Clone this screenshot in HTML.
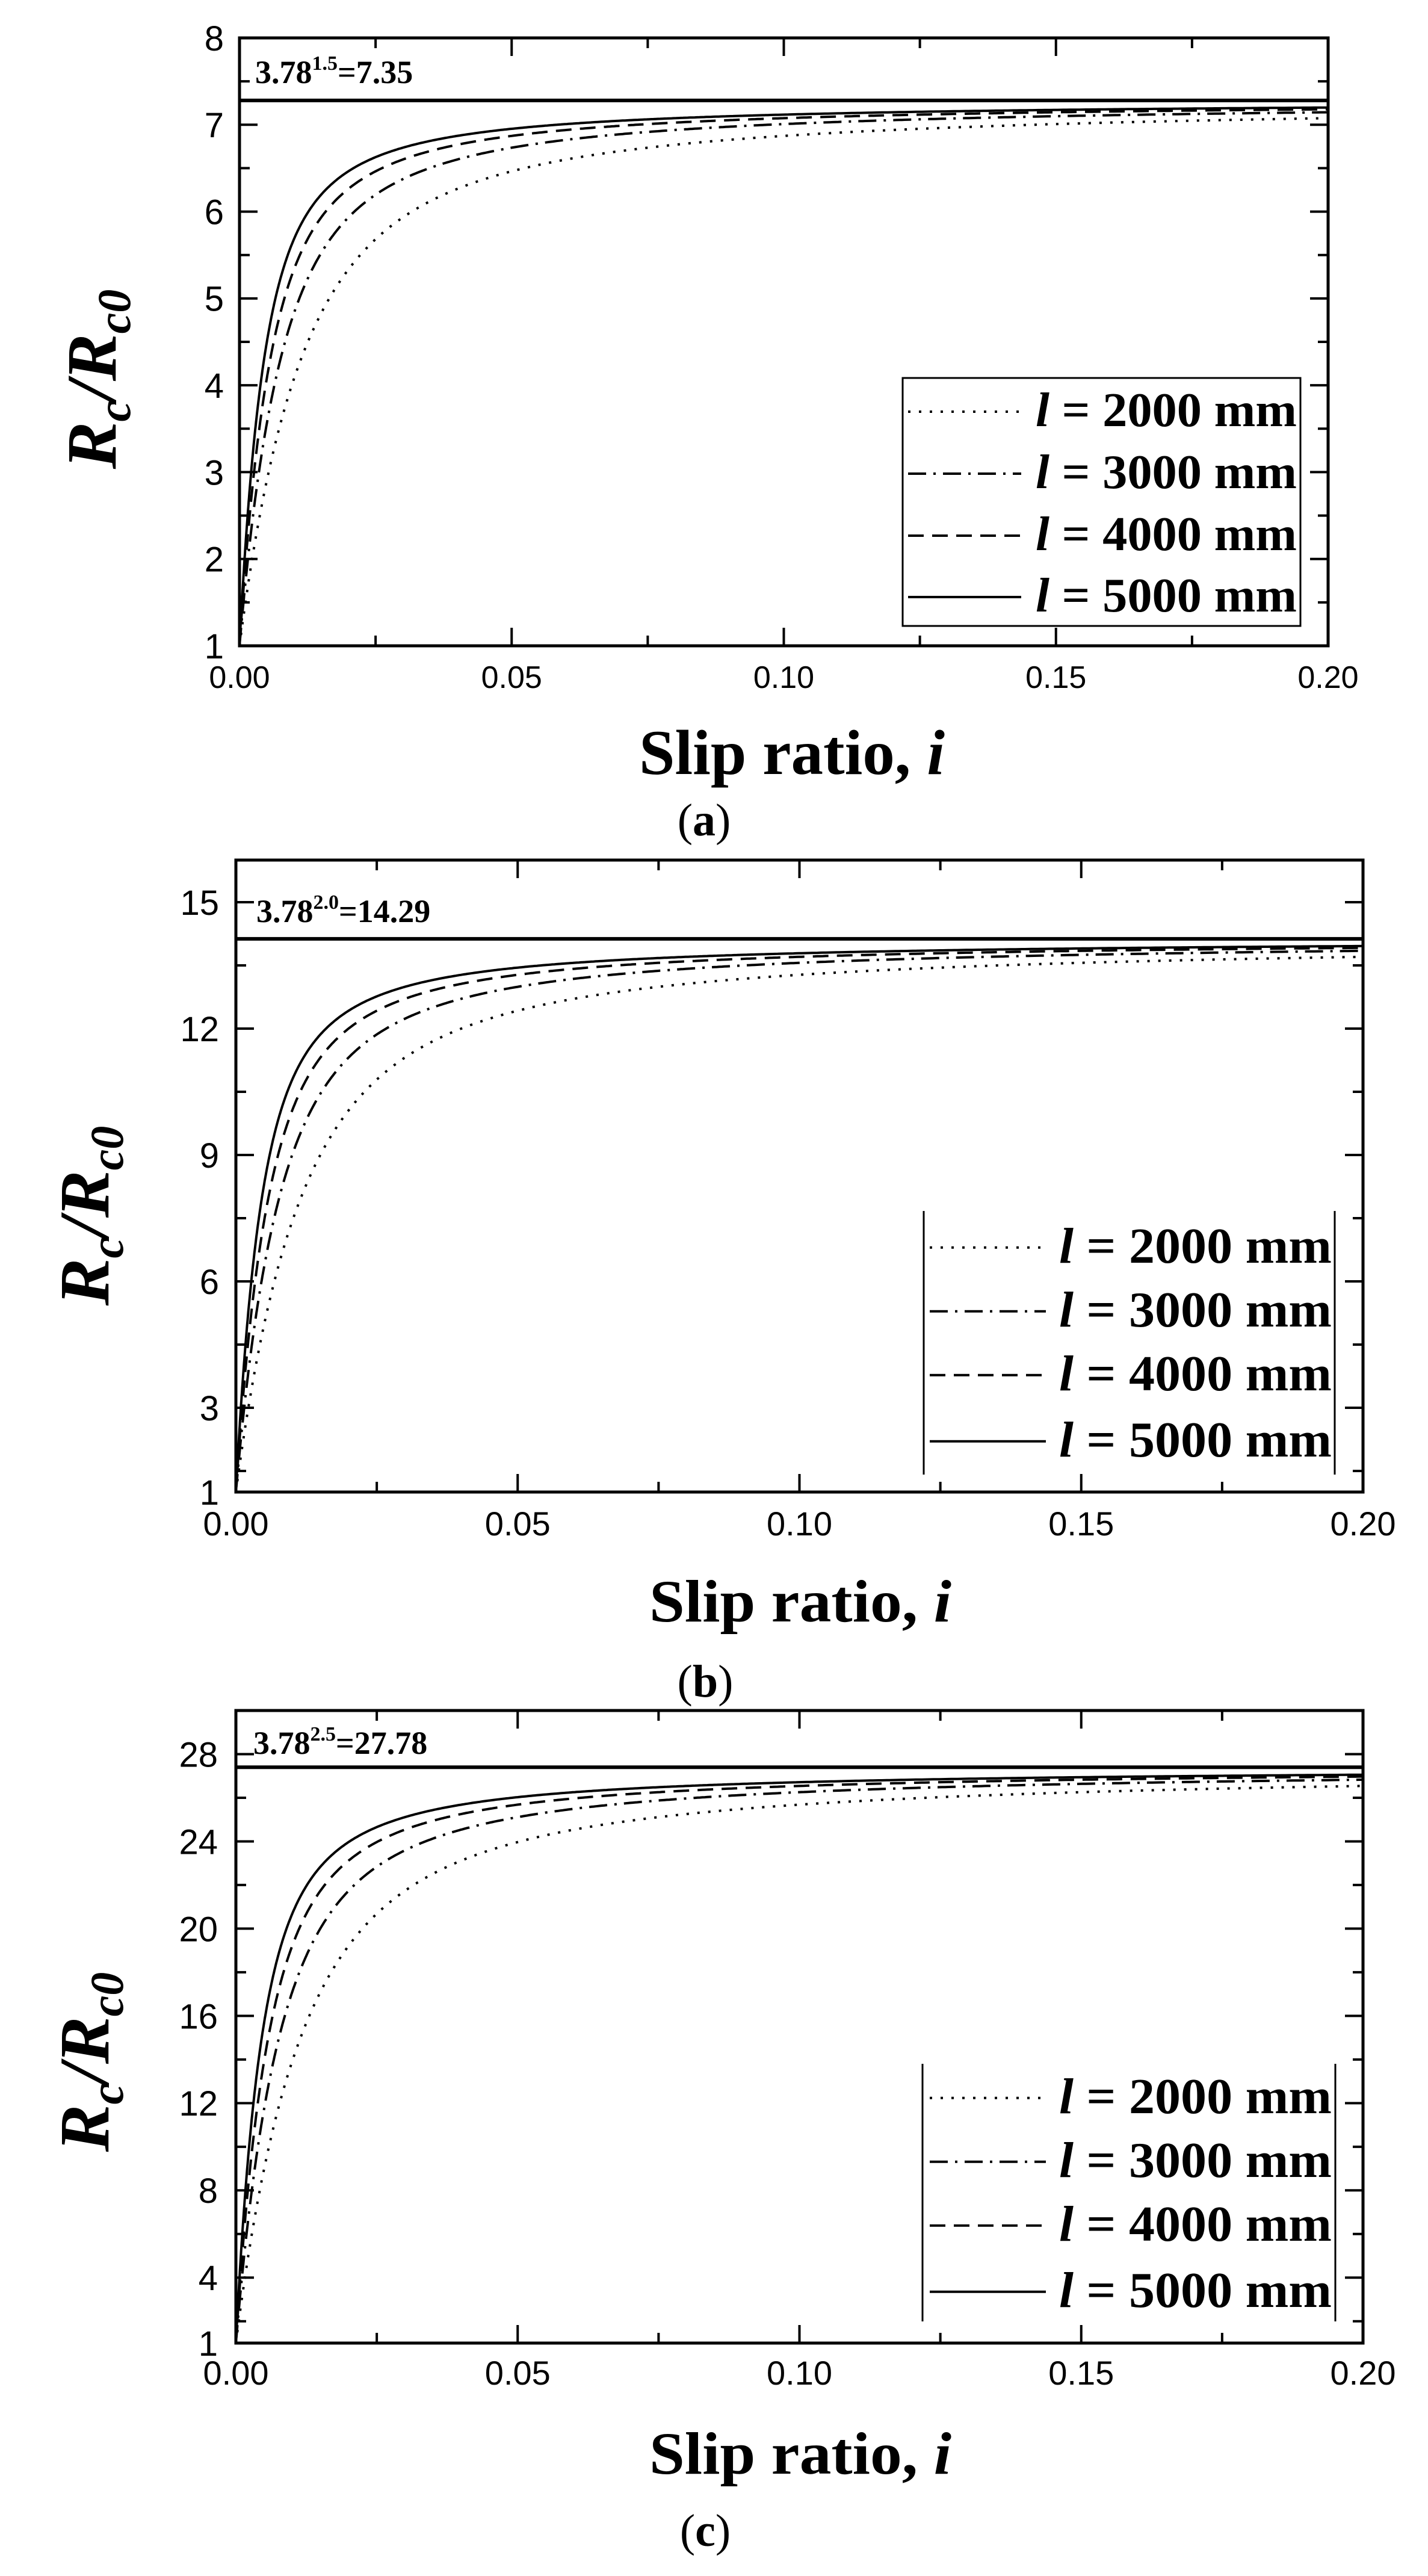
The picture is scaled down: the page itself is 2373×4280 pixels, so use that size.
<!DOCTYPE html>
<html><head><meta charset="utf-8"><style>
html,body{margin:0;padding:0;background:#fff;}
svg{display:block;}
</style></head><body>
<svg id="s" xmlns="http://www.w3.org/2000/svg" width="2373" height="4280" viewBox="0 0 2373 4280"></svg>
<script>
var s=document.getElementById('s');var out='';
function yl(c,v){return c.yb-(v-1)*(c.yb-c.yt)/(c.vmax-1);}
function xl(c,v){return c.xl+v/0.2*(c.xr-c.xl);}
function plot(c){
 var o='';
 var ls=[2000,3000,4000,5000];
 var dashes=['4 14','30 12 4 12','26 14',''];
 for(var k=0;k<4;k++){
  var d='';
  for(var n=0;n<=600;n++){
   var i=0.2*Math.pow(n/600,2);
   var x=i*ls[k]/13;
   var f=x<1e-6?0:1-(1-Math.exp(-x))/x;
   var v=1+(c.K-1)*f;
   d+=(n?'L':'M')+xl(c,i).toFixed(1)+' '+yl(c,v).toFixed(1);
  }
  o+='<path d="'+d+'" fill="none" stroke="#000" stroke-width="4"'+(dashes[k]?' stroke-dasharray="'+dashes[k]+'"':'')+'/>';
 }
 o+='<line x1="'+c.xl+'" x2="'+c.xr+'" y1="'+yl(c,c.K)+'" y2="'+yl(c,c.K)+'" stroke="#000" stroke-width="6"/>';
 o+='<rect x="'+c.xl+'" y="'+c.yt+'" width="'+(c.xr-c.xl)+'" height="'+(c.yb-c.yt)+'" fill="none" stroke="#000" stroke-width="5"/>';
 for(var t=0;t<=8;t++){
  var X=xl(c,t*0.025),L=t%2?17:30;
  o+='<line x1="'+X+'" x2="'+X+'" y1="'+c.yb+'" y2="'+(c.yb-L)+'" stroke="#000" stroke-width="4"/>';
  o+='<line x1="'+X+'" x2="'+X+'" y1="'+c.yt+'" y2="'+(c.yt+L)+'" stroke="#000" stroke-width="4"/>';
  if(t%2==0) o+='<text x="'+X+'" y="'+c.xlab+'" font-family="Liberation Sans,sans-serif" font-size="'+c.fs+'" text-anchor="middle">'+(t*0.025).toFixed(2)+'</text>';
 }
 c.major.forEach(function(v){var Y=yl(c,v);
  o+='<line x1="'+c.xl+'" x2="'+(c.xl+30)+'" y1="'+Y+'" y2="'+Y+'" stroke="#000" stroke-width="4"/>';
  o+='<line x1="'+c.xr+'" x2="'+(c.xr-30)+'" y1="'+Y+'" y2="'+Y+'" stroke="#000" stroke-width="4"/>';});
 c.minor.forEach(function(v){var Y=yl(c,v);
  o+='<line x1="'+c.xl+'" x2="'+(c.xl+17)+'" y1="'+Y+'" y2="'+Y+'" stroke="#000" stroke-width="4"/>';
  o+='<line x1="'+c.xr+'" x2="'+(c.xr-17)+'" y1="'+Y+'" y2="'+Y+'" stroke="#000" stroke-width="4"/>';});
 c.labels.forEach(function(v){var Y=yl(c,v);
  o+='<text x="'+c.ylx+'" y="'+(Y+c.yfs*0.36)+'" font-family="Liberation Sans,sans-serif" font-size="'+c.yfs+'" text-anchor="end">'+v+'</text>';});
 o+='<text x="'+c.ax+'" y="'+c.ay+'" font-family="Liberation Serif,serif" font-weight="bold" font-size="54">3.78<tspan font-size="34" dy="-22">'+c.exp+'</tspan><tspan dy="22">='+c.val+'</tspan></text>';
 var names=['2000','3000','4000','5000'];
 if(c.box) o+='<rect x="'+c.lg.l+'" y="'+c.lg.t+'" width="'+(c.lg.r-c.lg.l)+'" height="'+(c.lg.b-c.lg.t)+'" fill="#fff" stroke="#000" stroke-width="3"/>';
 else {o+='<line x1="'+c.lg.l+'" x2="'+c.lg.l+'" y1="'+c.lg.t+'" y2="'+c.lg.b+'" stroke="#000" stroke-width="3"/>';
  o+='<line x1="'+c.lg.r+'" x2="'+c.lg.r+'" y1="'+c.lg.t+'" y2="'+c.lg.b+'" stroke="#000" stroke-width="3"/>';}
 for(var k=0;k<4;k++){
  var by=c.lg.rows[k],ly=by-c.lg.fs*0.3;
  o+='<line x1="'+c.lg.s1+'" x2="'+c.lg.s2+'" y1="'+ly+'" y2="'+ly+'" stroke="#000" stroke-width="4"'+(dashes[k]?' stroke-dasharray="'+dashes[k]+'"':'')+'/>';
  o+='<text x="'+c.lg.tx+'" y="'+by+'" font-family="Liberation Serif,serif" font-weight="bold" font-size="'+c.lg.fs+'" textLength="'+c.lg.tw+'" lengthAdjust="spacingAndGlyphs"><tspan font-style="italic">l</tspan> = '+names[k]+' mm</text>';
 }
 o+='<text x="'+c.tx+'" y="'+c.ty+'" font-family="Liberation Serif,serif" font-weight="bold" font-size="'+c.tfs+'" textLength="'+c.tw+'" lengthAdjust="spacingAndGlyphs">Slip ratio, <tspan font-style="italic">i</tspan></text>';
 o+='<text transform="translate('+c.yx+','+c.yy+') rotate(-90)" text-anchor="middle" font-family="Liberation Serif,serif" font-weight="bold" font-style="italic" font-size="118">R<tspan font-size="78" dy="24">c</tspan><tspan dy="-24">/R</tspan><tspan font-size="78" dy="24">c0</tspan></text>';
 o+='<text x="'+c.cx+'" y="'+c.cy+'" text-anchor="middle" font-family="Liberation Serif,serif" font-size="76">(<tspan font-weight="bold">'+c.cap+'</tspan>)</text>';
 return o;
}
var A={xl:398,xr:2207,yt:63,yb:1073,vmax:8,K:7.28,major:[2,3,4,5,6,7],minor:[1.5,2.5,3.5,4.5,5.5,6.5,7.5],labels:[1,2,3,4,5,6,7,8],fs:52,yfs:58,ylx:372,xlab:1143,
 ax:424,ay:138,exp:'1.5',val:'7.35',box:true,
 lg:{l:1500,r:2161,t:628,b:1040,rows:[708,811,914,1016],s1:1509,s2:1697,tx:1721,tw:434,fs:80},
 tx:1062,ty:1286,tw:508,tfs:106,yx:192,yy:630,cx:1170,cy:1388,cap:'a'};
var B={xl:392,xr:2265,yt:1429,yb:2479,vmax:16,K:14.13,major:[3,6,9,12,15],minor:[1.5,4.5,7.5,10.5,13.5],labels:[1,3,6,9,12,15],fs:56,yfs:58,ylx:364,xlab:2551,
 ax:426,ay:1532,exp:'2.0',val:'14.29',box:false,
 lg:{l:1535,r:2218,t:2012,b:2450,rows:[2098,2204,2310,2420],s1:1545,s2:1738,tx:1760,tw:453,fs:84},
 tx:1079,ty:2694,tw:502,tfs:100,yx:180,yy:2020,cx:1172,cy:2819,cap:'b'};
var C={xl:392,xr:2265,yt:2842,yb:3893,vmax:30,K:27.4,major:[4,8,12,16,20,24,28],minor:[2,6,10,14,18,22,26,30],labels:[1,4,8,12,16,20,24,28],fs:56,yfs:58,ylx:362,xlab:3962,
 ax:421,ay:2914,exp:'2.5',val:'27.78',box:false,
 lg:{l:1533,r:2219,t:3429,b:3857,rows:[3511,3617,3723,3833],s1:1545,s2:1738,tx:1760,tw:453,fs:84},
 tx:1079,ty:4110,tw:502,tfs:100,yx:180,yy:3426,cx:1172,cy:4230,cap:'c'};
out+=plot(A)+plot(B)+plot(C);
s.innerHTML=out;
</script>
</body></html>
